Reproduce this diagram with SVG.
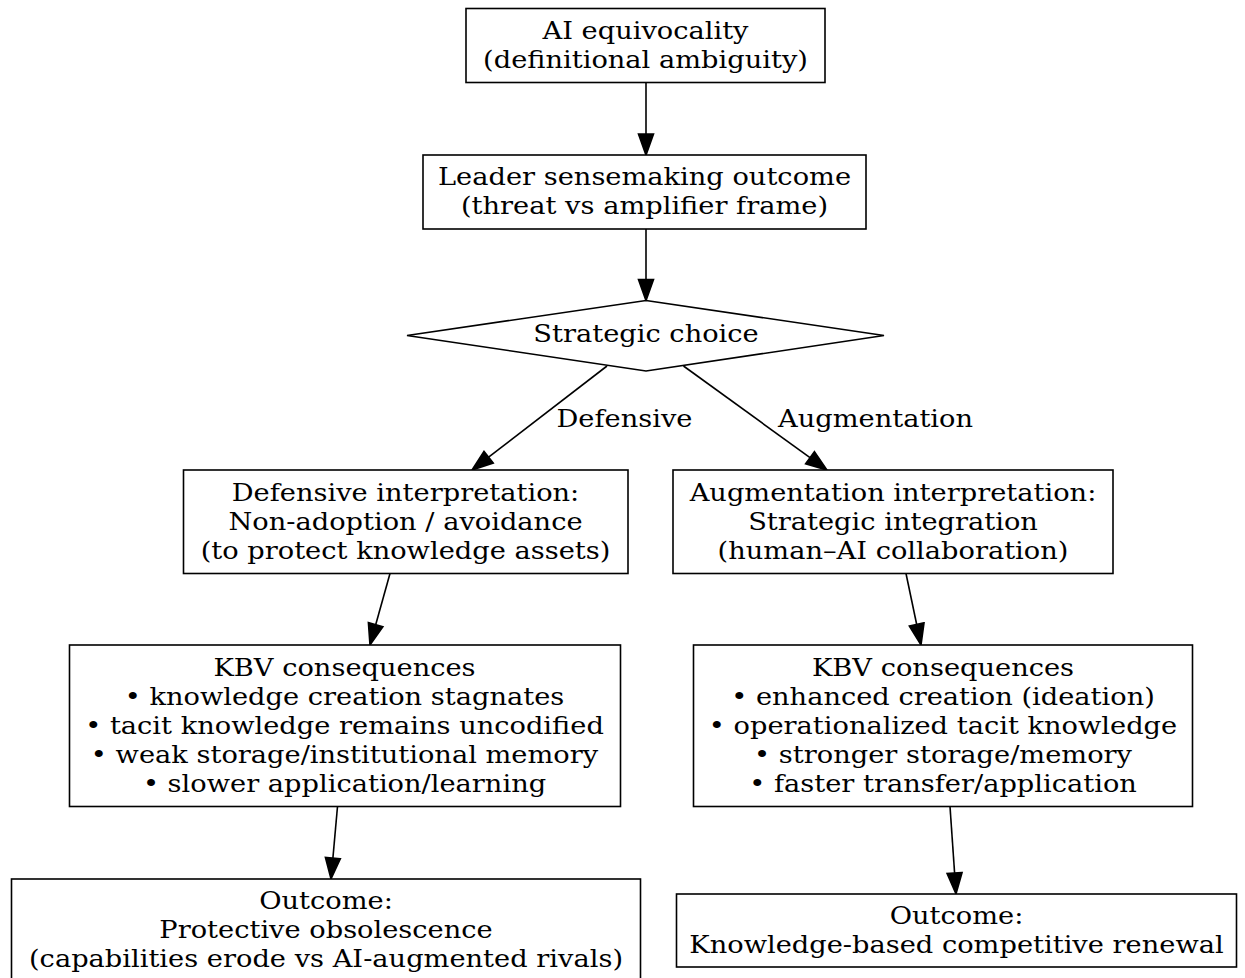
<svg xmlns="http://www.w3.org/2000/svg" width="1245" height="978" viewBox="0 0 1245 978">
  <style>
    .box { fill: #ffffff; stroke: #000000; stroke-width: 1.6; }
    .lbl { font-family: "DejaVu Serif", serif; font-size: 24px; fill: #000000; text-anchor: middle; }
    .elbl { font-family: "DejaVu Serif", serif; font-size: 24px; fill: #000000; text-anchor: start; }
    .edge line { stroke: #000000; stroke-width: 1.6; }
    .edge polygon { fill: #000000; stroke: #000000; stroke-width: 1.6; stroke-linejoin: miter; }
  </style>
  <rect width="1245" height="978" fill="#ffffff"/>

  <!-- connectors; labels are widened horizontally to a schoolbook-like set width -->
  <g id="connectors" class="edge">
    <line x1="646" y1="82.5" x2="646" y2="134"/>
    <polygon points="638.5,134 653.5,134 646,155"/>
    <line x1="646" y1="229" x2="646" y2="279.5"/>
    <polygon points="638.5,279.5 653.5,279.5 646,300.5"/>
    <line x1="607" y1="366" x2="488.6" y2="457.2"/>
    <polygon points="493.2,463.1 484.0,451.3 472,470"/>
    <g transform="translate(556.5,0) scale(1.136,1)"><text class="elbl" x="0" y="427">Defensive</text></g>
    <line x1="683.5" y1="366" x2="810" y2="457.7"/>
    <polygon points="814.4,451.6 805.6,463.8 827,470"/>
    <g transform="translate(778,0) scale(1.136,1)"><text class="elbl" x="0" y="427">Augmentation</text></g>
    <line x1="390" y1="573.5" x2="375.7" y2="624.8"/>
    <polygon points="382.9,626.8 368.4,622.7 370,645"/>
    <line x1="906" y1="573.5" x2="916.7" y2="624.5"/>
    <polygon points="924.0,622.9 909.35,626.0 921,645"/>
    <line x1="337.5" y1="806.5" x2="332.9" y2="858.1"/>
    <polygon points="340.35,858.75 325.41,857.41 331,879"/>
    <line x1="950" y1="806.5" x2="954.6" y2="873"/>
    <polygon points="962.04,872.54 947.08,873.56 956,894"/>
  </g>

  <g id="ai_equivocality">
    <rect class="box" x="466" y="8.5" width="359" height="74"/>
    <g transform="translate(645.5,0) scale(1.136,1)">
      <text class="lbl" x="0" y="39.5">AI equivocality</text>
      <text class="lbl" x="0" y="68.5">(definitional ambiguity)</text>
    </g>
  </g>

  <g id="sensemaking">
    <rect class="box" x="423" y="155" width="443" height="74"/>
    <g transform="translate(644.5,0) scale(1.136,1)">
      <text class="lbl" x="0" y="185.5">Leader sensemaking outcome</text>
      <text class="lbl" x="0" y="214.5">(threat vs amplifier frame)</text>
    </g>
  </g>

  <g id="strategic_choice">
    <polygon class="box" points="646,300.5 884,335.5 646,371 407,335.5"/>
    <g transform="translate(646,0) scale(1.136,1)">
      <text class="lbl" x="0" y="342">Strategic choice</text>
    </g>
  </g>

  <g id="defensive_interp">
    <rect class="box" x="183.5" y="470" width="444.5" height="103.5"/>
    <g transform="translate(405.5,0) scale(1.136,1)">
      <text class="lbl" x="0" y="501">Defensive interpretation:</text>
      <text class="lbl" x="0" y="530">Non-adoption / avoidance</text>
      <text class="lbl" x="0" y="559">(to protect knowledge assets)</text>
    </g>
  </g>

  <g id="augmentation_interp">
    <rect class="box" x="673" y="470" width="440" height="103.5"/>
    <g transform="translate(893,0) scale(1.136,1)">
      <text class="lbl" x="0" y="501">Augmentation interpretation:</text>
      <text class="lbl" x="0" y="530">Strategic integration</text>
      <text class="lbl" x="0" y="559">(human–AI collaboration)</text>
    </g>
  </g>

  <g id="kbv_defensive">
    <rect class="box" x="69.5" y="645" width="551" height="161.5"/>
    <g transform="translate(344.5,0) scale(1.136,1)">
      <text class="lbl" x="0" y="676">KBV consequences</text>
      <text class="lbl" x="0" y="705">• knowledge creation stagnates</text>
      <text class="lbl" x="0" y="734">• tacit knowledge remains uncodified</text>
      <text class="lbl" x="0" y="763">• weak storage/institutional memory</text>
      <text class="lbl" x="0" y="792">• slower application/learning</text>
    </g>
  </g>

  <g id="kbv_augmentation">
    <rect class="box" x="693.5" y="645" width="499" height="161.5"/>
    <g transform="translate(943,0) scale(1.136,1)">
      <text class="lbl" x="0" y="676">KBV consequences</text>
      <text class="lbl" x="0" y="705">• enhanced creation (ideation)</text>
      <text class="lbl" x="0" y="734">• operationalized tacit knowledge</text>
      <text class="lbl" x="0" y="763">• stronger storage/memory</text>
      <text class="lbl" x="0" y="792">• faster transfer/application</text>
    </g>
  </g>

  <g id="outcome_obsolescence">
    <rect class="box" x="11.5" y="879" width="629" height="103.5"/>
    <g transform="translate(326,0) scale(1.136,1)">
      <text class="lbl" x="0" y="909">Outcome:</text>
      <text class="lbl" x="0" y="938">Protective obsolescence</text>
      <text class="lbl" x="0" y="967">(capabilities erode vs AI-augmented rivals)</text>
    </g>
  </g>

  <g id="outcome_renewal">
    <rect class="box" x="676.5" y="894" width="560" height="73"/>
    <g transform="translate(956.5,0) scale(1.136,1)">
      <text class="lbl" x="0" y="924">Outcome:</text>
      <text class="lbl" x="0" y="953">Knowledge-based competitive renewal</text>
    </g>
  </g>
</svg>
